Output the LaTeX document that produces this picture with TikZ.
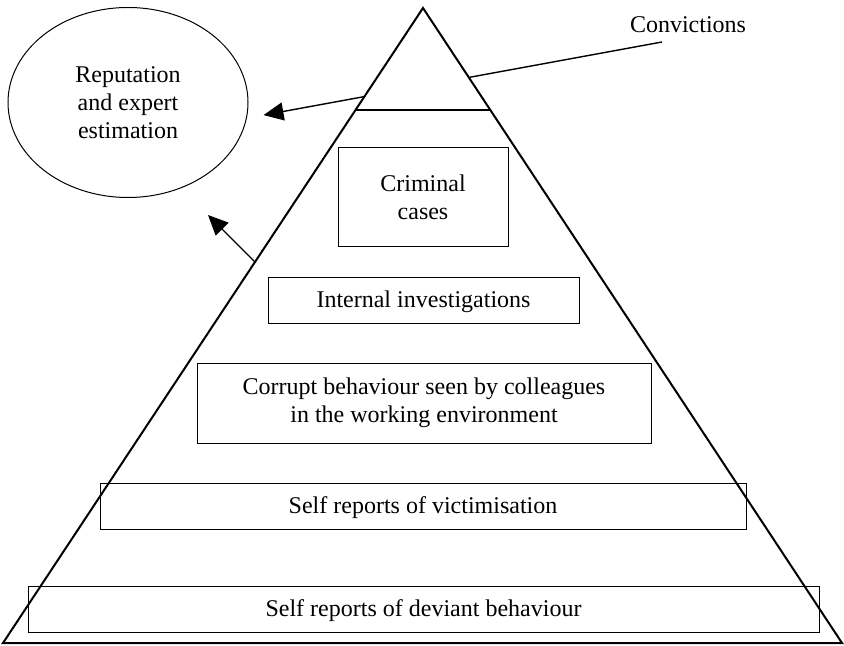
\documentclass[tikz,border=0pt]{standalone}
\usepackage{fontspec}
\setmainfont{Liberation Serif}
\usetikzlibrary{arrows.meta,shapes.geometric,calc}

\tikzset{
  level/.style={draw, line width=0.5pt, inner sep=0pt, align=center,
                font=\fontsize{12}{14}\selectfont},
  oneline/.style={text height=10pt, text depth=2.6pt},
  pointer/.style={line width=0.7pt, -{Triangle[length=10pt,width=9pt]}},
}

\begin{document}
\begin{tikzpicture}[x=0.5pt,y=-0.5pt]
    % Marco de la figura (y hacia abajo)
    \useasboundingbox (0,0) rectangle (844,646);

    % Vértices de la pirámide y altura del corte superior
    \coordinate (apex)  at (423,8);
    \coordinate (baseL) at (3,643);
    \coordinate (baseR) at (842,643);
    \def\cuty{110}

    % Óvalo de reputación
    \node[level, ellipse, minimum width=120pt, minimum height=95pt]
        (reput) at (128,102.5) {Reputation\\and expert\\estimation};

    % Etiqueta de condenas y su flecha (pasa por detrás de la punta)
    \node[font=\fontsize{12}{14}\selectfont] (conv) at (688,25) {Convictions};
    \coordinate (convfoot) at (662,42);
    \draw[pointer] (convfoot) -- ([xshift=7.5pt,yshift=-6.3pt]reput.east);

    % Punta de la pirámide tapada en blanco
    \fill[white] (apex) -- ($(apex)!{(\cuty-8)/635}!(baseL)$) -- ($(apex)!{(\cuty-8)/635}!(baseR)$) -- cycle;

    % Contorno de la pirámide y línea del corte
    \draw[line width=1pt, line join=miter] (apex) -- (baseL) -- (baseR) -- cycle;
    \draw[line width=1pt] ($(apex)!{(\cuty-8)/635}!(baseL)$) -- ($(apex)!{(\cuty-8)/635}!(baseR)$);

    % Niveles de la pirámide
    \node[level, minimum width=85pt,    minimum height=49.5pt] (crim)    at (423,197.5) {Criminal\\cases};
    \node[level, oneline, minimum width=155.5pt, minimum height=22.5pt] (intern)  at (423.5,300.5) {Internal investigations};
    \node[level, minimum width=227pt,   minimum height=40pt]   (corrupt) at (424,403) {Corrupt behaviour seen by colleagues\\in the working environment};
    \node[level, oneline, minimum width=323pt,   minimum height=23pt]   (victim)  at (423,506.5) {Self reports of victimisation};
    \node[level, oneline, minimum width=395.5pt, minimum height=23pt]   (deviant) at (423.5,609.5) {Self reports of deviant behaviour};

    % Flecha desde el lado izquierdo
    \coordinate (sidefoot) at (255,262);
    \draw[pointer] (sidefoot) -- ++(-47,-47);
\end{tikzpicture}
\end{document}
